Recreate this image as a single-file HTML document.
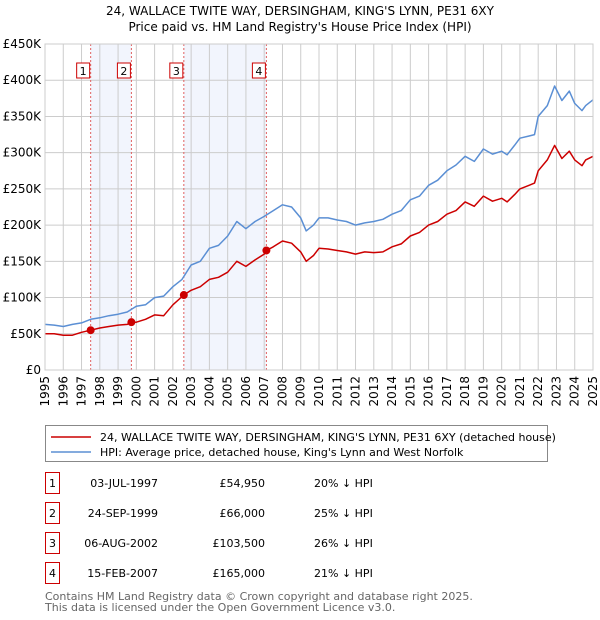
<!DOCTYPE html>
<html><head><meta charset="utf-8">
<style>
body{margin:0;background:#fff;font-family:"Liberation Sans","DejaVu Sans",sans-serif;}
#wrap{position:relative;width:600px;height:620px;overflow:hidden;}
svg text{font-family:"DejaVu Sans","Liberation Sans",sans-serif;}
</style></head><body>
<div id="wrap">
<svg id="chart" width="600" height="620"></svg>
</div>
<script>
const yTicks=[0,50000,100000,150000,200000,250000,300000,350000,400000,450000];
const yTickLabels=["£0","£50K","£100K","£150K","£200K","£250K","£300K","£350K","£400K","£450K"];
const xYears=[1995,1996,1997,1998,1999,2000,2001,2002,2003,2004,2005,2006,2007,2008,2009,2010,2011,2012,2013,2014,2015,2016,2017,2018,2019,2020,2021,2022,2023,2024,2025];
const hpiT=[1995,1995.5,1996,1996.5,1997,1997.5,1998,1998.5,1999,1999.5,2000,2000.5,2001,2001.5,2002,2002.5,2003,2003.5,2004,2004.5,2005,2005.5,2006,2006.5,2007,2007.5,2008,2008.5,2009,2009.3,2009.7,2010,2010.5,2011,2011.5,2012,2012.5,2013,2013.5,2014,2014.5,2015,2015.5,2016,2016.5,2017,2017.5,2018,2018.5,2019,2019.5,2020,2020.3,2020.7,2021,2021.5,2021.8,2022,2022.5,2022.9,2023.3,2023.7,2024,2024.4,2024.6,2025];
const hpiV=[63,62,60,63,65,70,72,75,77,80,88,90,100,102,115,125,145,150,168,172,185,205,195,205,212,220,228,225,210,192,200,210,210,207,205,200,203,205,208,215,220,235,240,255,262,275,283,295,288,305,298,302,297,310,320,323,325,350,365,392,372,385,368,358,365,373];
const redT=[1995,1995.5,1996,1996.5,1997,1997.5,1998,1998.5,1999,1999.5,1999.73,2000,2000.5,2001,2001.5,2002,2002.6,2003,2003.5,2004,2004.5,2005,2005.5,2006,2006.5,2007,2007.12,2007.5,2008,2008.5,2009,2009.3,2009.7,2010,2010.5,2011,2011.5,2012,2012.5,2013,2013.5,2014,2014.5,2015,2015.5,2016,2016.5,2017,2017.5,2018,2018.5,2019,2019.5,2020,2020.3,2020.7,2021,2021.5,2021.8,2022,2022.5,2022.9,2023.3,2023.7,2024,2024.4,2024.6,2025];
const redV=[50,50,48,48,52,55,58,60,62,63,66,66,70,76,75,90,103.5,110,115,125,128,135,150,143,152,160,165,170,178,175,163,150,158,168,167,165,163,160,163,162,163,170,174,185,190,200,205,215,220,232,226,240,233,237,232,242,250,255,258,275,290,310,292,302,290,282,290,295];
const saleT=[1997.5,1999.73,2002.6,2007.12];
const saleV=[54950,66000,103500,165000];
const saleLabels=["1","2","3","4"];

const NS="http://www.w3.org/2000/svg";
const svg=document.getElementById('chart');
const X0=45,X1=593,Y0=370,Y1=44;
const xs=t=>X0+(t-1995)/30*(X1-X0);
const ys=v=>Y0-v/450000*(Y0-Y1);
function el(tag,attrs,parent){const e=document.createElementNS(NS,tag);for(const k in attrs)e.setAttribute(k,attrs[k]);(parent||svg).appendChild(e);return e;}
function txt(s,attrs){const e=el('text',attrs);e.textContent=s;return e;}

let t=txt("24, WALLACE TWITE WAY, DERSINGHAM, KING'S LYNN, PE31 6XY",{x:300,y:15,'text-anchor':'middle','font-size':12,fill:'#000'});


t=txt("Price paid vs. HM Land Registry's House Price Index (HPI)",{x:300,y:31,'text-anchor':'middle','font-size':12,fill:'#000'});



for(let i=0;i<saleT.length;i+=2){
  const r=el('rect',{x:xs(saleT[i]),y:Y1,width:xs(saleT[i+1])-xs(saleT[i]),height:Y0-Y1,fill:'#f2f5fd'});
  
  
}
yTicks.forEach((v,i)=>{
  const g=el('line',{x1:X0,x2:X1,y1:ys(v),y2:ys(v),stroke:'#cccccc','stroke-width':1});
  
  
  const l=txt(yTickLabels[i],{x:X0-4,y:ys(v)+4,'text-anchor':'end','font-size':12,fill:'#000'});
  
  
});
xYears.forEach(y=>{
  const g=el('line',{x1:xs(y),x2:xs(y),y1:Y1,y2:Y0,stroke:'#cccccc','stroke-width':1});
  
  
  const l=txt(String(y),{x:0,y:0,'text-anchor':'end','font-size':12,fill:'#000',transform:`translate(${xs(y)+4},${Y0+6}) rotate(-90)`});
  
  
});
saleT.forEach((s,i)=>{
  const v=el('line',{x1:xs(s),x2:xs(s),y1:Y1,y2:Y0,stroke:'#e06060','stroke-width':1,'stroke-dasharray':'2,2'});
  
  
  const b=el('rect',{x:xs(s)-14,y:63,width:13,height:15,fill:'#fff',stroke:'#cc0000','stroke-width':1});
  
  
  const l=txt(saleLabels[i],{x:xs(s)-7.5,y:75,'text-anchor':'middle','font-size':11,fill:'#000'});
  
  
});
function path(T,V,color,name){
  const d=T.map((tt,i)=>(i?'L':'M')+xs(tt).toFixed(1)+','+ys(V[i]*1000).toFixed(1)).join('');
  const p=el('path',{d:d,fill:'none',stroke:color,'stroke-width':1.5,'stroke-linejoin':'round'});
  
  
}
path(hpiT,hpiV,'#5b8fd4','hpi-line');
path(redT,redV,'#cc0000','price-paid-line');
saleT.forEach((s,i)=>{
  const c=el('circle',{cx:xs(s),cy:ys(saleV[i]),r:4,fill:'#cc0000'});
  
  
});
const ax=el('rect',{x:X0,y:Y1,width:X1-X0,height:Y0-Y1,fill:'none',stroke:'#cccccc'});



const lg=el('rect',{x:45.5,y:425.5,width:502,height:36,fill:'#fff',stroke:'#888'});


let ll=el('line',{x1:51,x2:91,y1:437,y2:437,stroke:'#cc0000','stroke-width':1.5});


t=txt("24, WALLACE TWITE WAY, DERSINGHAM, KING'S LYNN, PE31 6XY (detached house)",{x:100,y:441,'font-size':11,fill:'#000'});


ll=el('line',{x1:51,x2:91,y1:452,y2:452,stroke:'#5b8fd4','stroke-width':1.5});


t=txt("HPI: Average price, detached house, King's Lynn and West Norfolk",{x:100,y:456,'font-size':11,fill:'#000'});



const rowsDate=["03-JUL-1997","24-SEP-1999","06-AUG-2002","15-FEB-2007"];
const rowsPrice=["£54,950","£66,000","£103,500","£165,000"];
const rowsPct=["20% ↓ HPI","25% ↓ HPI","26% ↓ HPI","21% ↓ HPI"];
rowsDate.forEach((d,i)=>{
  const y=483+i*30;
  const b=el('rect',{x:45.5,y:y-10.5,width:14,height:21,fill:'#fff',stroke:'#cc0000'});
  
  
  let tt=txt(saleLabels[i],{x:52.5,y:y+4,'text-anchor':'middle','font-size':11,fill:'#000'});
  
  
  tt=txt(d,{x:158,y:y+4,'text-anchor':'end','font-size':11,fill:'#000'});
  
  
  tt=txt(rowsPrice[i],{x:265,y:y+4,'text-anchor':'end','font-size':11,fill:'#000'});
  
  
  tt=txt(rowsPct[i],{x:314,y:y+4,'font-size':11,fill:'#000'});
  
  
});
t=txt("Contains HM Land Registry data © Crown copyright and database right 2025.",{x:45,y:600,'font-size':11,fill:'#666'});


t=txt("This data is licensed under the Open Government Licence v3.0.",{x:45,y:611,'font-size':11,fill:'#666'});


</script>
</body></html>
